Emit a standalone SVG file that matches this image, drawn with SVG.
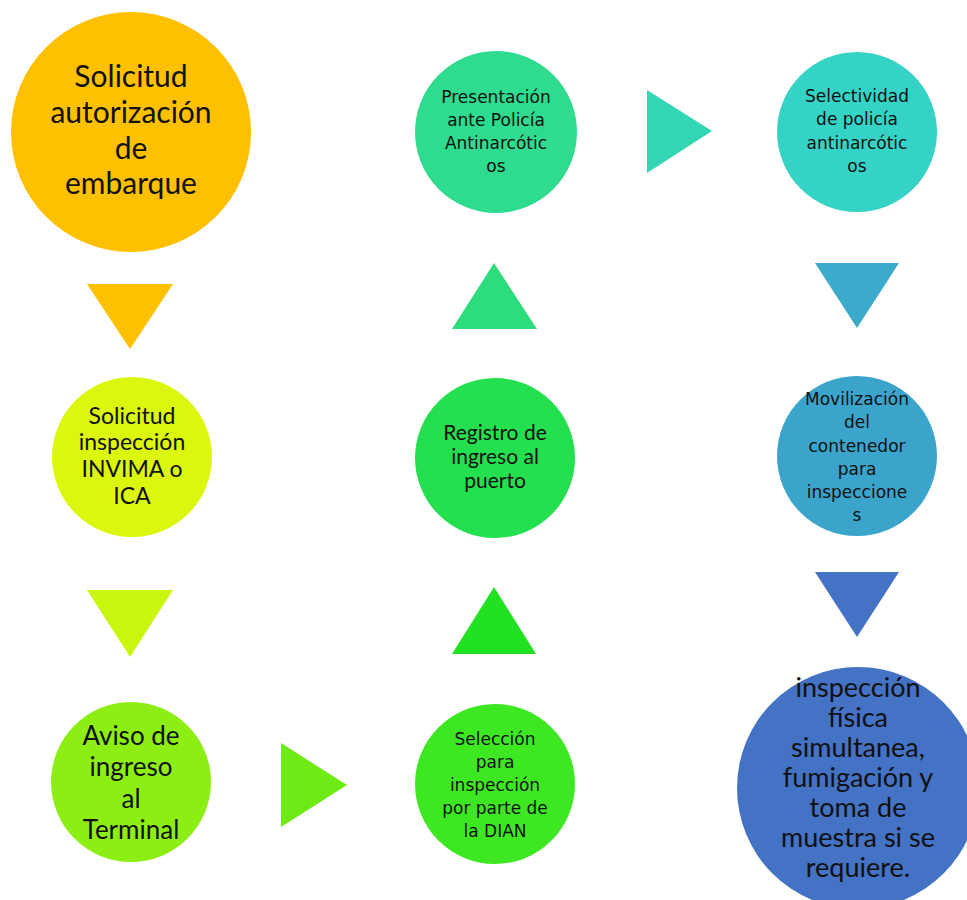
<svg xmlns="http://www.w3.org/2000/svg" width="967" height="900" viewBox="0 0 967 900">
<style>
.big{font-family:Lato,"Liberation Sans",sans-serif;fill:#111;text-anchor:middle}
.sm{font-family:"DejaVu Sans","Liberation Sans",sans-serif;fill:#111;text-anchor:middle;font-size:17px}
</style>
<rect width="967" height="900" fill="#ffffff"/>
<g id="connectors">
<polygon points="87,284 173,284 130,349" fill="#FFC000"/>
<polygon points="87,590 173,590 130,657" fill="#C9F60F"/>
<polygon points="281,743 281,827 347,785" fill="#6EEB14"/>
<polygon points="452,654 536,654 494,587" fill="#22E022"/>
<polygon points="452,329 537,329 494,263" fill="#2DDC7A"/>
<polygon points="647,90 647,173 712,131" fill="#33D6B4"/>
<polygon points="815,263 899,263 857,328" fill="#3BAACB"/>
<polygon points="815,572 899,572 857,637" fill="#4472C4"/>
</g>
<g id="n1">
<circle cx="131" cy="132" r="120" fill="#FFC000"/>
<text class="big" font-size="30"><tspan x="131" y="87">Solicitud</tspan><tspan x="131" y="123">autorización</tspan><tspan x="131" y="159">de</tspan><tspan x="131" y="194">embarque</tspan></text>
</g>
<g id="n2">
<circle cx="132" cy="457" r="80" fill="#DCF70E"/>
<text class="big" font-size="23"><tspan x="132" y="424">Solicitud</tspan><tspan x="132" y="450">inspección</tspan><tspan x="132" y="477">INVIMA o</tspan><tspan x="132" y="504">ICA</tspan></text>
</g>
<g id="n3">
<circle cx="131" cy="782" r="80" fill="#8DEE14"/>
<text class="big" font-size="26"><tspan x="131" y="745">Aviso de</tspan><tspan x="131" y="776">ingreso</tspan><tspan x="131" y="808">al</tspan><tspan x="131" y="839">Terminal</tspan></text>
</g>
<g id="n4">
<circle cx="495" cy="784" r="80" fill="#3DE823"/>
<text class="sm"><tspan x="495" y="745">Selección</tspan><tspan x="495" y="768">para</tspan><tspan x="495" y="791">inspección</tspan><tspan x="495" y="814">por parte de</tspan><tspan x="495" y="837">la DIAN</tspan></text>
</g>
<g id="n5">
<circle cx="495" cy="458" r="80" fill="#24E04E"/>
<text class="big" font-size="21"><tspan x="495" y="440">Registro de</tspan><tspan x="495" y="464">ingreso al</tspan><tspan x="495" y="488">puerto</tspan></text>
</g>
<g id="n6">
<circle cx="496" cy="132" r="81" fill="#2FDB8E"/>
<text class="sm"><tspan x="496" y="103">Presentación</tspan><tspan x="496" y="126">ante Policía</tspan><tspan x="496" y="149">Antinarcótic</tspan><tspan x="496" y="172">os</tspan></text>
</g>
<g id="n7">
<circle cx="857" cy="132" r="80" fill="#35D3C5"/>
<text class="sm"><tspan x="857" y="102">Selectividad</tspan><tspan x="857" y="125">de policía</tspan><tspan x="857" y="149">antinarcótic</tspan><tspan x="857" y="172">os</tspan></text>
</g>
<g id="n8">
<circle cx="857" cy="456" r="80" fill="#3BA4CB"/>
<text class="sm"><tspan x="857" y="405">Movilización</tspan><tspan x="857" y="428">del</tspan><tspan x="857" y="452">contenedor</tspan><tspan x="857" y="475">para</tspan><tspan x="857" y="498">inspeccione</tspan><tspan x="857" y="521">s</tspan></text>
</g>
<g id="n9">
<circle cx="858" cy="788" r="121" fill="#4472C4"/>
<text class="big" font-size="27"><tspan x="858" y="697">inspección</tspan><tspan x="858" y="727">física</tspan><tspan x="858" y="757">simultanea,</tspan><tspan x="858" y="787">fumigación y</tspan><tspan x="858" y="817">toma de</tspan><tspan x="858" y="847">muestra si se</tspan><tspan x="858" y="877">requiere.</tspan></text>
</g>
</svg>
